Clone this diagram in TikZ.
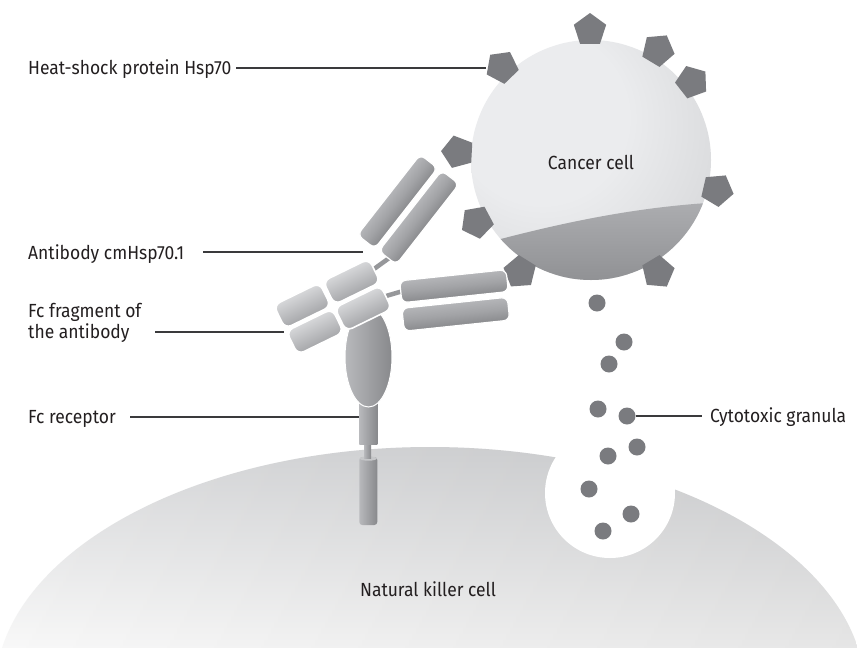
\documentclass[tikz,border=0pt]{standalone}
\usepackage{fontspec}
\setmainfont{Fira Sans}[FakeStretch=0.92]
\usetikzlibrary{shapes.geometric}

% palette
\definecolor{inkline}{HTML}{3A3A3C}
\definecolor{inktext}{HTML}{231F20}
\definecolor{hspgray}{HTML}{7A7B7F}
\definecolor{cellA}{HTML}{EBECEE}
\definecolor{cellB}{HTML}{C3C4C6}
\definecolor{capA}{HTML}{ACADB0}
\definecolor{capB}{HTML}{8D8E91}
\definecolor{nkTop}{HTML}{D5D6D8}
\definecolor{nkBot}{HTML}{F8F8F8}
\definecolor{barTop}{HTML}{B4B5B8}
\definecolor{barMid}{HTML}{A2A3A6}
\definecolor{barBot}{HTML}{8A8B8E}
\definecolor{blkTop}{HTML}{D6D7D9}
\definecolor{blkBot}{HTML}{A6A7AA}
\definecolor{linkGray}{HTML}{96979A}
\definecolor{stemL}{HTML}{B8B9BC}
\definecolor{stemR}{HTML}{88898C}

\pgfdeclareradialshading{cancershade}{\pgfpoint{-14bp}{12bp}}{%
  color(0bp)=(cellA); color(18bp)=(cellA); color(58bp)=(cellB); color(70bp)=(cellB)}

\newcommand{\lblsize}{\fontsize{19}{21}\selectfont}

% one rounded antibody domain: style, centre x, centre y, angle, length, width
\newcommand{\abpart}[6]{%
  \begin{scope}[transform canvas={shift={(#2,#3)}, rotate=#4}]
    \shade[#1] (-#5/2,-#6/2) rectangle (#5/2,#6/2);
  \end{scope}}

\begin{document}
\begin{tikzpicture}[x=1pt,y=-1pt,
  lbl/.style={inner sep=0pt, text=inktext, font=\lblsize},
  leader/.style={draw=inkline, line width=1.1pt},
  hsp/.style={regular polygon, regular polygon sides=5, minimum size=34pt,
    inner sep=0pt, fill=hspgray},
  granule/.style={circle, minimum size=17pt, inner sep=0pt, fill=hspgray},
  barpart/.style={top color=barTop, bottom color=barBot, middle color=barMid,
    draw=white, line width=1.2pt, rounded corners=6pt},
  hingepart/.style={top color=blkTop, bottom color=blkBot,
    draw=white, line width=1.6pt, rounded corners=7pt},
  linker/.style={draw=linkGray, line width=4.5pt},
  stempart/.style={left color=stemL, right color=stemR}]

\useasboundingbox (0,0) rectangle (857,648);
\fill[white] (0,0) rectangle (857,648);

% natural killer cell
\begin{scope}
  \clip (0,0) rectangle (857,648);
  \clip (430,692) ellipse [x radius=435, y radius=245];
  \shade[top color=nkTop, bottom color=nkBot] (0,447) rectangle (857,648);
  \shade[left color=white, right color=black, opacity=0.07] (0,447) rectangle (857,648);
\end{scope}
% pocket releasing the granula
\fill[white] (610,493) circle [radius=65];

% Fc receptor stem
\shade[stempart, rounded corners=3pt] (359.3,457) rectangle (377.3,525);
\fill[stemL!80!white] (368.3,458.5) ellipse [x radius=8.5, y radius=2.2];
\shade[stempart] (364,443) rectangle (371,458);
\shade[stempart] (359.3,398) rectangle (377.3,444);

% cancer cell
\shade[shading=cancershade] (591,160) circle [radius=120];
\begin{scope}
  \clip (591,160) circle [radius=120];
  \shade[top color=capA, bottom color=capB]
    (460,250) .. controls (560,222) and (640,206) .. (725,202)
    -- (725,290) -- (460,290) -- cycle;
\end{scope}
\node[lbl, anchor=base] (lblCancer) at (591,169) {Cancer cell};

% heat-shock proteins on the membrane
\node[hsp, rotate=0]    (hsp1) at (590,30)  {};
\node[hsp, rotate=-31]  (hsp2) at (658,50)  {};
\node[hsp, rotate=-52]  (hsp3) at (692,82)  {};
\node[hsp, rotate=44]   (hsp4) at (502,67)  {};
\node[hsp, rotate=87]   (hsp5) at (458,152) {};
\node[hsp, rotate=-103] (hsp6) at (717,190) {};
\node[hsp, rotate=118]  (hsp7) at (477,222) {};
\node[hsp, rotate=148]  (hsp8) at (520,272) {};
\node[hsp, rotate=211]  (hsp9) at (658,272) {};

% cytotoxic granula
\node[granule] (g1)  at (597,303) {};
\node[granule] (g2)  at (624,342) {};
\node[granule] (g3)  at (609,364) {};
\node[granule] (g4)  at (598,409) {};
\node[granule] (g5)  at (627,416) {};
\node[granule] (g6)  at (637,447) {};
\node[granule] (g7)  at (608,456) {};
\node[granule] (g8)  at (589,489) {};
\node[granule] (g9)  at (631,514) {};
\node[granule] (g10) at (603,531) {};

% receptor head
\shade[left color=stemL, right color=stemR, draw=white, line width=1pt]
  (368.5,357) ellipse [x radius=23.5, y radius=50];

% antibody: hinge linkers
\draw[linker] (374,269) -- (392,256);
\draw[linker] (386,296) -- (403,291);

% antibody: Fc / hinge domains
\abpart{hingepart}{351.7}{281.7}{26}{51}{26}
\abpart{hingepart}{302.3}{305.7}{26}{51}{26}
\abpart{hingepart}{363.3}{308.3}{26}{51}{26}
\abpart{hingepart}{315}{331.7}{26}{51}{26}

% antibody: upper arm
\abpart{barpart}{397.5}{201.5}{52}{102}{22}
\abpart{barpart}{419}{217.5}{52}{102}{22}

% antibody: right arm
\abpart{barpart}{454}{286.2}{6}{107}{22}
\abpart{barpart}{455.8}{314.2}{6}{106}{23}

% labels and leader lines
\node[lbl, anchor=base west] (lblHsp)  at (28,74)  {Heat-shock protein Hsp70};
\node[lbl, anchor=base west] (lblAb)   at (28,259) {Antibody cmHsp70.1};
\node[lbl, anchor=base west] (lblFcA)  at (28,317) {Fc fragment of};
\node[lbl, anchor=base west] (lblFcB)  at (28,338) {the antibody};
\node[lbl, anchor=base west] (lblFcR)  at (28,423) {Fc receptor};
\node[lbl, anchor=base west] (lblGran) at (710,422) {Cytotoxic granula};
\node[lbl, anchor=base] (lblNK) at (428,596) {Natural killer cell};

\coordinate (hspS) at (236,68);   \coordinate (hspT) at (486,68);
\coordinate (abS)  at (203,252);  \coordinate (abT)  at (363,252);
\coordinate (fcS)  at (155,332);  \coordinate (fcT)  at (284,332);
\coordinate (fcrS) at (130,417);  \coordinate (fcrT) at (359.3,417);
\coordinate (granT) at (702,416);

\draw[leader] (hspS) -- (hspT);
\draw[leader] (abS) -- (abT);
\draw[leader] (fcS) -- (fcT);
\draw[leader] (fcrS) -- (fcrT);
\draw[leader] (g5.east) -- (granT);
\end{tikzpicture}
\end{document}
